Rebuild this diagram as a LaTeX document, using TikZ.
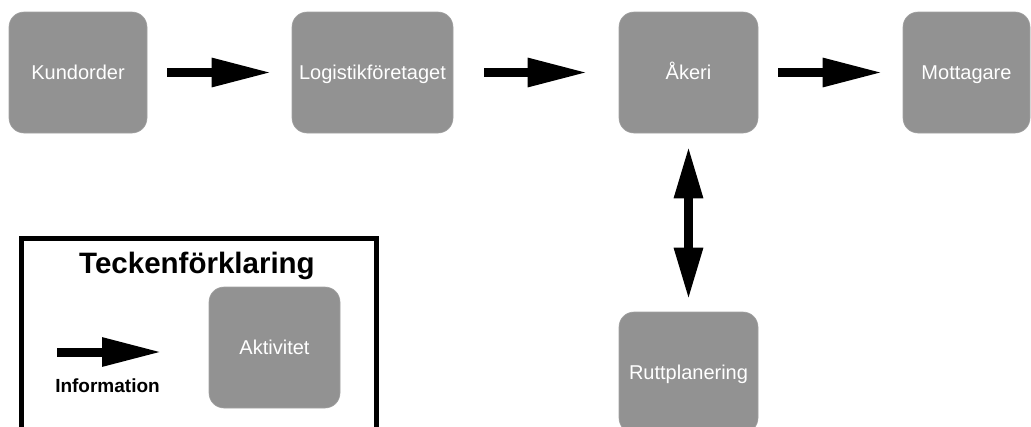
\documentclass[tikz,border=0pt]{standalone}
\usepackage{fontspec}
\setmainfont{Liberation Sans}
\usetikzlibrary{arrows.meta}
\definecolor{boxgray}{HTML}{929292}
\begin{document}
\begin{tikzpicture}[x=1pt,y=-1pt,
  activity/.style={rectangle, rounded corners=15pt, fill=boxgray, draw=boxgray!85!white, line width=0.6pt,
    text=white, inner sep=0pt, minimum height=121pt, text height=14.4pt, text depth=0pt,
    font=\fontsize{20}{24}\selectfont},
  flow/.style={line width=9pt, -{Triangle[length=60pt,width=27pt]}},
  twoway/.style={line width=9pt, {Triangle[length=52pt,width=27pt]}-{Triangle[length=52pt,width=27pt]}}]
\useasboundingbox (0,0) rectangle (1031,426);
\clip (0,0) rectangle (1031,426);

% process chain
\node[activity, minimum width=138pt] (kund) at (78,72.5) {Kundorder};
\node[activity, minimum width=161pt] (logi) at (372.5,72.5) {Logistikföretaget};
\node[activity, minimum width=139pt] (akeri) at (688.5,72.5) {Åkeri};
\node[activity, minimum width=127pt] (mott) at (966.5,72.5) {Mottagare};
\node[activity, minimum width=139pt] (rutt) at (688.5,372.5) {Ruttplanering};

\draw[flow, shorten <=20pt, shorten >=20pt] (kund.east) -- (logi.west);
\draw[flow, shorten <=31pt, shorten >=31pt] (logi.east) -- (akeri.west);
\draw[flow, shorten <=20pt, shorten >=20pt] (akeri.east) -- (mott.west);
\draw[twoway, shorten <=13pt, shorten >=12pt] (akeri.south) -- (rutt.north);

% legend
\draw[line width=5pt] (21.5,445) -- (21.5,238.5) -- (376.5,238.5) -- (376.5,445);
\node[anchor=base, font=\fontsize{29.5}{34}\selectfont\bfseries] (title) at (197,273.5) {Teckenförklaring};
\node[activity, minimum width=131pt] (akt) at (274.5,347.5) {Aktivitet};
\coordinate (ls) at (57,352);
\coordinate (le) at (162,352);
\draw[flow] (ls) -- (le);
\node[anchor=base, font=\fontsize{19}{23}\selectfont\bfseries] (info) at (107.5,392) {Information};
\end{tikzpicture}
\end{document}
